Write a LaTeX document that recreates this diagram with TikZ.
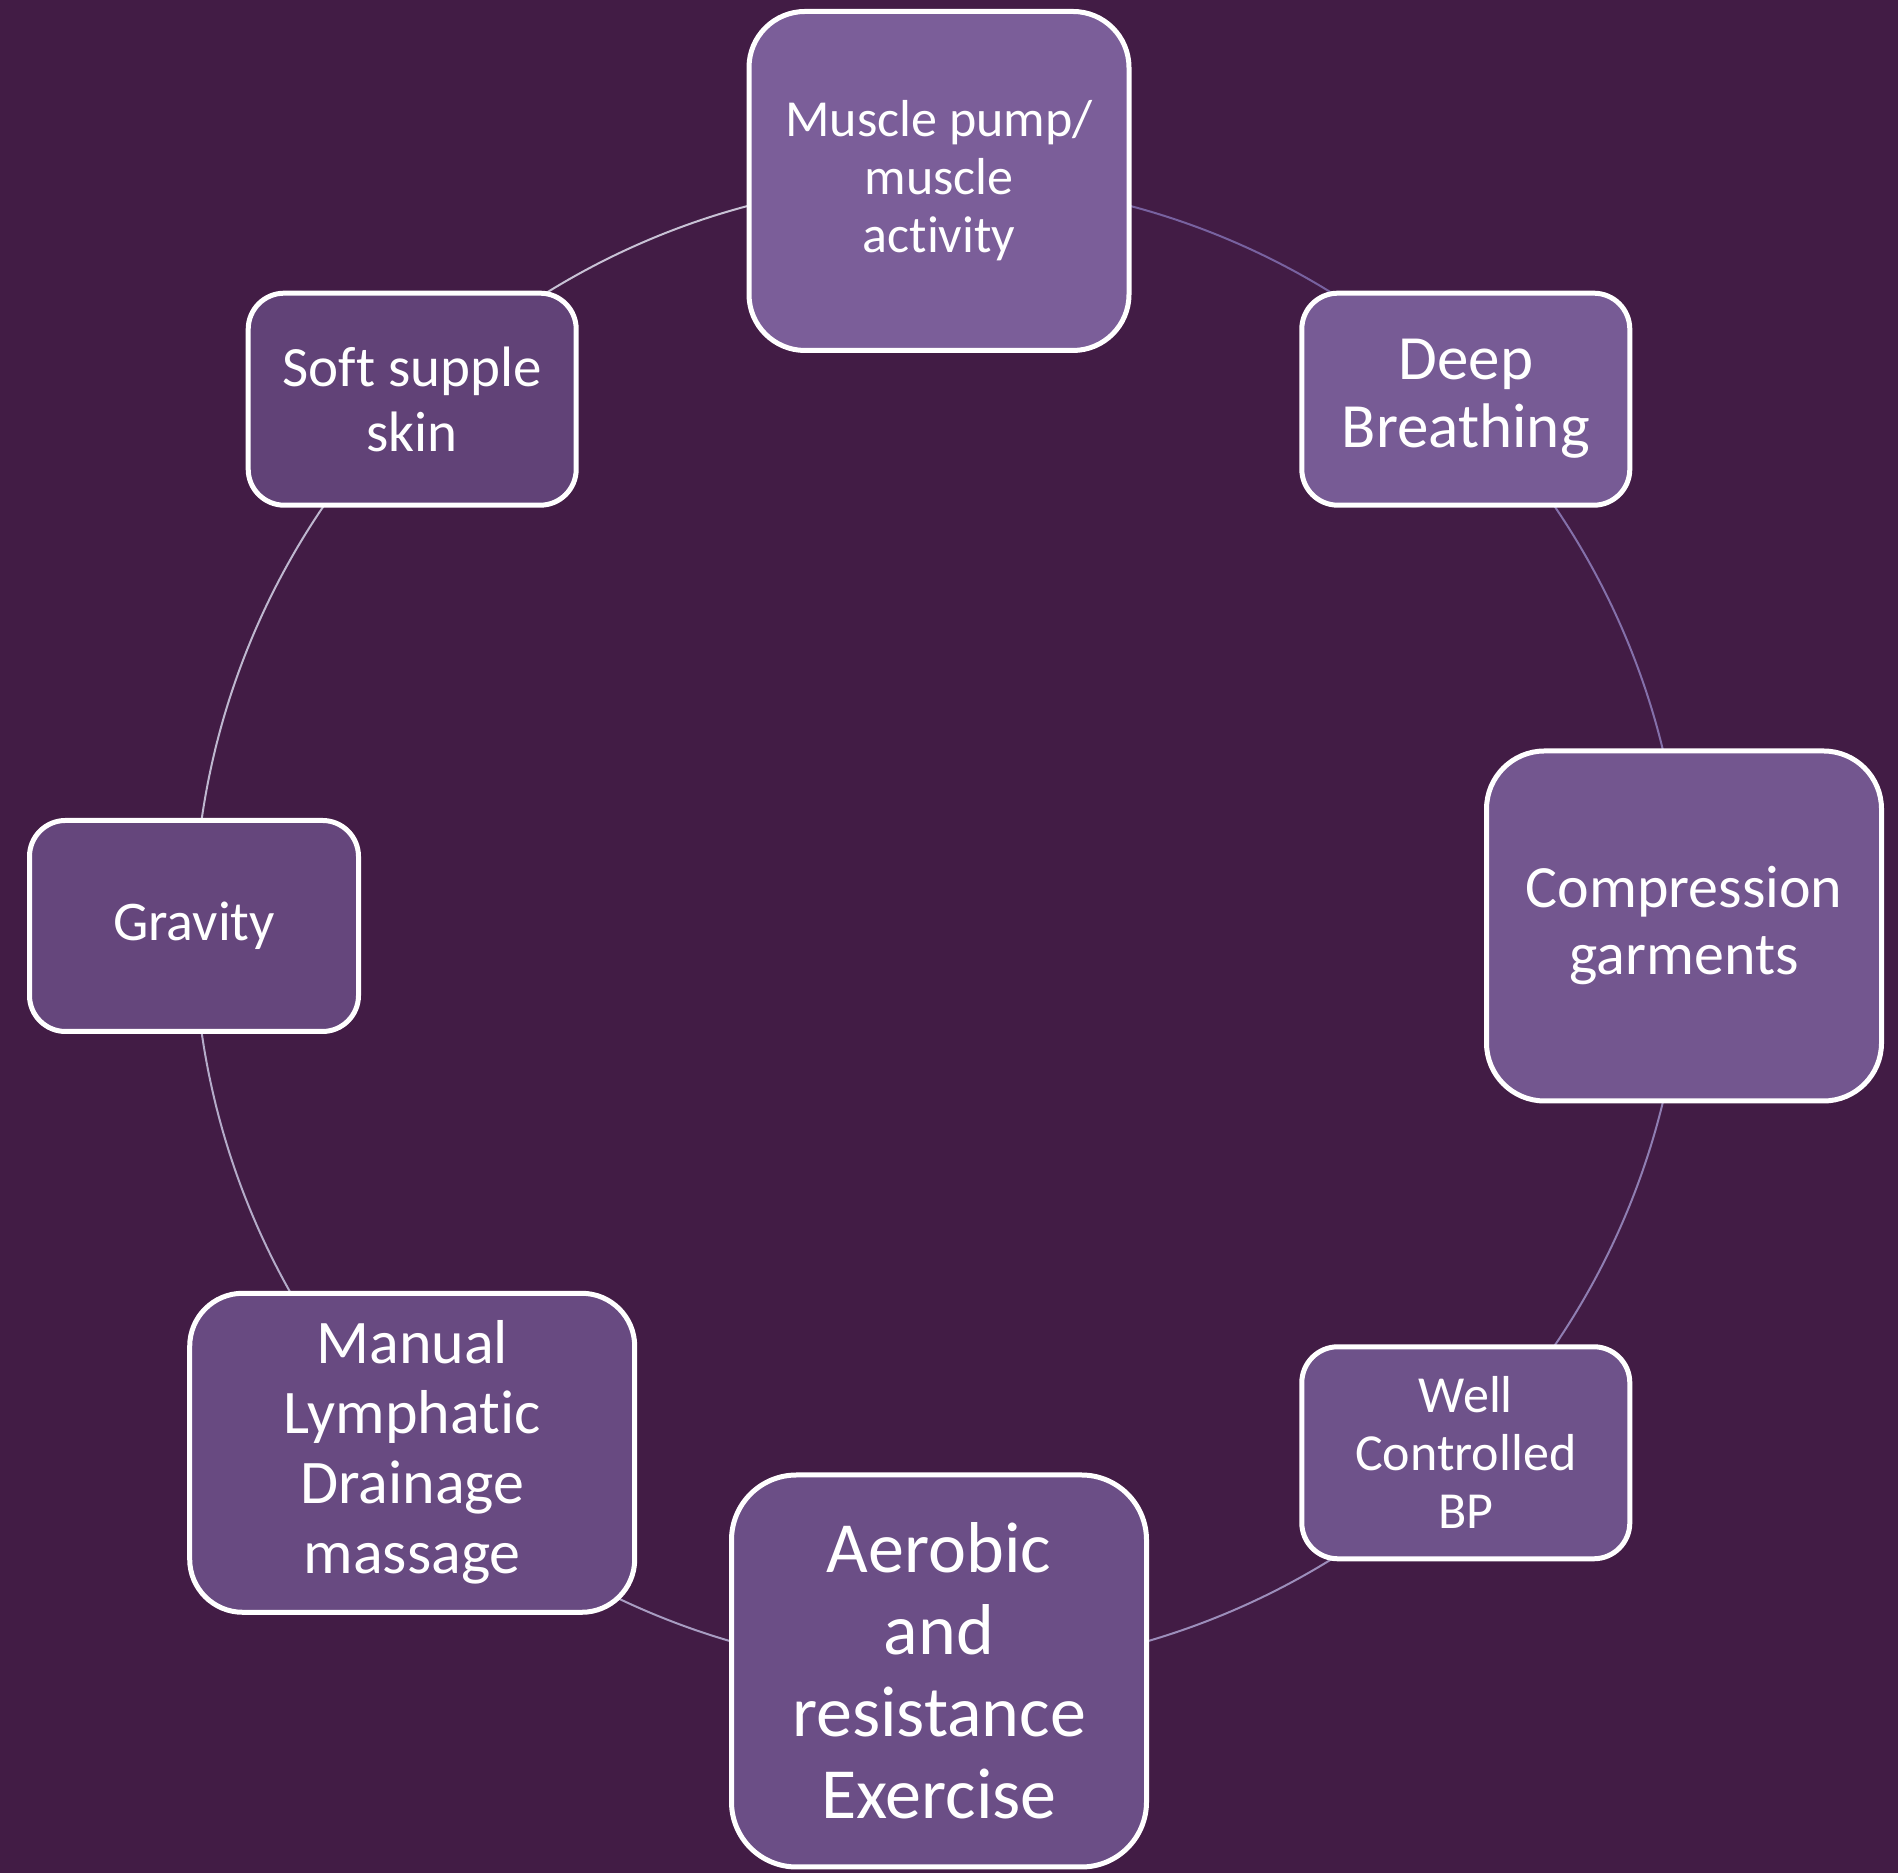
\documentclass[tikz,border=0pt]{standalone}
\usepackage{fontspec}
\setmainfont{Carlito}[Ligatures={NoCommon}]
\usetikzlibrary{backgrounds}

\definecolor{bgpurple}{HTML}{421C45}
\definecolor{boxA}{HTML}{7B5E99}
\definecolor{boxB}{HTML}{775B95}
\definecolor{boxC}{HTML}{73568F}
\definecolor{boxD}{HTML}{6E528A}
\definecolor{boxE}{HTML}{6B4E86}
\definecolor{boxF}{HTML}{684A81}
\definecolor{boxG}{HTML}{65467C}
\definecolor{boxH}{HTML}{614277}
\definecolor{ringA}{HTML}{7862A0}
\definecolor{ringB}{HTML}{8470AA}
\definecolor{ringC}{HTML}{8F7EB2}
\definecolor{ringD}{HTML}{9C8EBB}
\definecolor{ringE}{HTML}{A89DC2}
\definecolor{ringF}{HTML}{B4ABC9}
\definecolor{ringG}{HTML}{BEB7CF}
\definecolor{ringH}{HTML}{C8C2D5}

\begin{document}
\begin{tikzpicture}[x=1pt, y=1pt,
	box/.style={draw=white, line width=5pt, text=white, align=center, inner sep=0pt},
	ring/.style={line width=2pt}]
	% cycle of boxes, centre (939,947), radius 745
	\begin{scope}[shift={(939,947)}]
		\node [box, fill=boxA, minimum width=380pt, minimum height=339pt, rounded corners=56pt,
			font=\fontsize{52}{58}\selectfont] (muscle) at (90:745) {Muscle pump/\\muscle\\activity};
		\node [box, fill=boxB, minimum width=328pt, minimum height=212pt, rounded corners=36pt,
			font=\fontsize{63}{68}\selectfont] (deep) at (45:745) {Deep\\Breathing};
		\node [box, fill=boxC, minimum width=395pt, minimum height=350pt, rounded corners=58pt,
			font=\fontsize{60}{67}\selectfont] (compress) at (0:745) {Compression\\garments};
		\node [box, fill=boxD, minimum width=328pt, minimum height=212pt, rounded corners=36pt,
			font=\fontsize{52}{58}\selectfont] (well) at (-45:745) {Well\\Controlled\\BP};
		\node [box, fill=boxE, minimum width=415pt, minimum height=392pt, rounded corners=65pt,
			font=\fontsize{72}{82}\selectfont] (aerobic) at (-90:745) {Aerobic\\and\\resistance\\Exercise};
		\node [box, fill=boxF, minimum width=445pt, minimum height=319pt, rounded corners=53pt,
			font=\fontsize{62}{70}\selectfont] (manual) at (-135:745) {Manual\\Lymphatic\\Drainage\\massage};
		\node [box, fill=boxG, minimum width=329pt, minimum height=211pt, rounded corners=36pt,
			font=\fontsize{56}{63}\selectfont] (gravity) at (180:745) {Gravity};
		\node [box, fill=boxH, minimum width=328pt, minimum height=212pt, rounded corners=36pt,
			font=\fontsize{57}{65}\selectfont] (skin) at (135:745) {Soft supple\\skin};
	\end{scope}
	\begin{pgfonlayer}{background}
		\fill [bgpurple] (0,0) rectangle (1898,1873);
		% ring segments, clockwise
		\foreach \from/\ang/\col in {muscle/90/ringA, deep/45/ringB, compress/0/ringC, well/-45/ringD,
			aerobic/-90/ringE, manual/-135/ringF, gravity/180/ringG, skin/135/ringH}
			\draw [ring, \col] (\from.center) arc [start angle=\ang, end angle=\ang-45, radius=745pt];
	\end{pgfonlayer}
\end{tikzpicture}
\end{document}
